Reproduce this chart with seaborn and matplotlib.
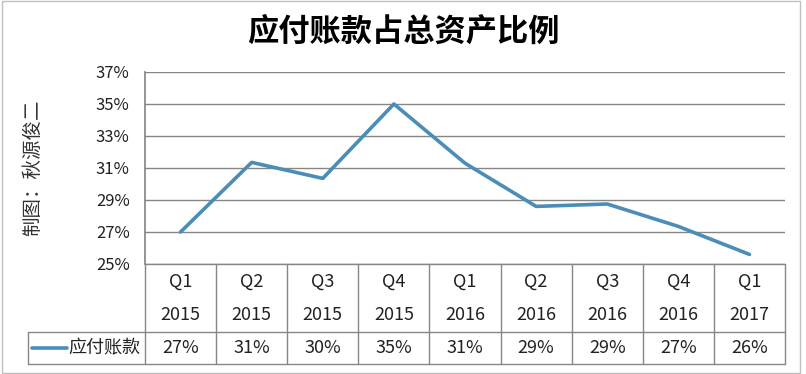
import numpy as np
import pandas as pd
import matplotlib
matplotlib.use("Agg")
import matplotlib.pyplot as plt
from matplotlib.patches import Rectangle
from matplotlib.lines import Line2D
import seaborn as sns

# Data
quarters = ['Q1', 'Q2', 'Q3', 'Q4', 'Q1', 'Q2', 'Q3', 'Q4', 'Q1']
years = ['2015', '2015', '2015', '2015', '2016', '2016', '2016', '2016', '2017']
share = [27.0, 31.35, 30.35, 35.0, 31.3, 28.6, 28.75, 27.35, 25.6]
series_name = '应付账款'
title = '应付账款占总资产比例'
credit = '制图：秋源俊二'
y_ticks = [25, 27, 29, 31, 33, 35, 37]

df = pd.DataFrame({'pos': np.arange(len(share)), 'share': share})

sns.set_theme(style="white")
plt.rcParams['font.family'] = ['Noto Sans CJK SC', 'DejaVu Sans']

line_color = '#4A8DB7'
grid_color = '#868686'
text_color = '#222222'

fig = plt.figure(figsize=(8.06, 3.74), dpi=100)
ax = fig.add_axes([145 / 806, 1 - 264 / 374, 640 / 806, 192 / 374])

sns.lineplot(data=df, x='pos', y='share', ax=ax, color=line_color, linewidth=2.6)

n = len(share)
ax.set_xlim(-0.5, n - 0.5)
ax.set_ylim(y_ticks[0], y_ticks[-1])
ax.set_yticks(y_ticks)
ax.set_yticklabels([f'{t}%' for t in y_ticks], fontsize=12, color=text_color)
ax.tick_params(axis='y', length=3, color=grid_color, pad=8)
ax.set_xticks([])
ax.set_xlabel('')
ax.set_ylabel(credit, fontsize=14, color='#333333', labelpad=38)
for t in y_ticks:
    ax.axhline(t, color=grid_color, linewidth=1, zorder=0)
for s in ['top', 'right', 'bottom']:
    ax.spines[s].set_visible(False)
ax.spines['left'].set_color(grid_color)

# data table under the plot (y in axes units)
tr = ax.get_xaxis_transform()
head_h = 68 / 192
row_h = 32 / 192
y_head = -head_h
y_row = -head_h - row_h
kw = dict(transform=tr, clip_on=False, color=grid_color, linewidth=1)
for b in np.arange(-0.5, n):
    ax.add_line(Line2D([b, b], [0, y_row], **kw))
ax.add_line(Line2D([-0.5, n - 0.5], [0, 0], **kw))
left_x = -0.5 - 117 / 71.1
ax.add_line(Line2D([left_x, n - 0.5], [y_head, y_head], **kw))
ax.add_line(Line2D([left_x, n - 0.5], [y_row, y_row], **kw))
ax.add_line(Line2D([left_x, left_x], [y_head, y_row], **kw))

for i in range(n):
    ax.text(i, -0.09, quarters[i], transform=tr, ha='center', va='center',
            fontsize=13, color=text_color)
    ax.text(i, -0.265, years[i], transform=tr, ha='center', va='center',
            fontsize=13, color=text_color)
    ax.text(i, (y_head + y_row) / 2, f'{share[i]:.0f}%', transform=tr,
            ha='center', va='center', fontsize=13, color=text_color)

ym = (y_head + y_row) / 2
ax.add_line(Line2D([left_x + 0.06, left_x + 0.55], [ym, ym], transform=tr,
                   clip_on=False, color=line_color, linewidth=2.6))
ax.text(-0.56, ym, series_name, transform=tr, ha='right', va='center',
        fontsize=13, color=text_color)

fig.text(0.5, 1 - 32 / 374, title, ha='center', va='center',
         fontsize=22.5, fontweight='bold', color='black')

fig.add_artist(Rectangle((0.002, 0.003), 0.99, 0.994, transform=fig.transFigure,
                         fill=False, edgecolor='#BFBFBF', linewidth=1))

fig.savefig('out.png', dpi=100)
